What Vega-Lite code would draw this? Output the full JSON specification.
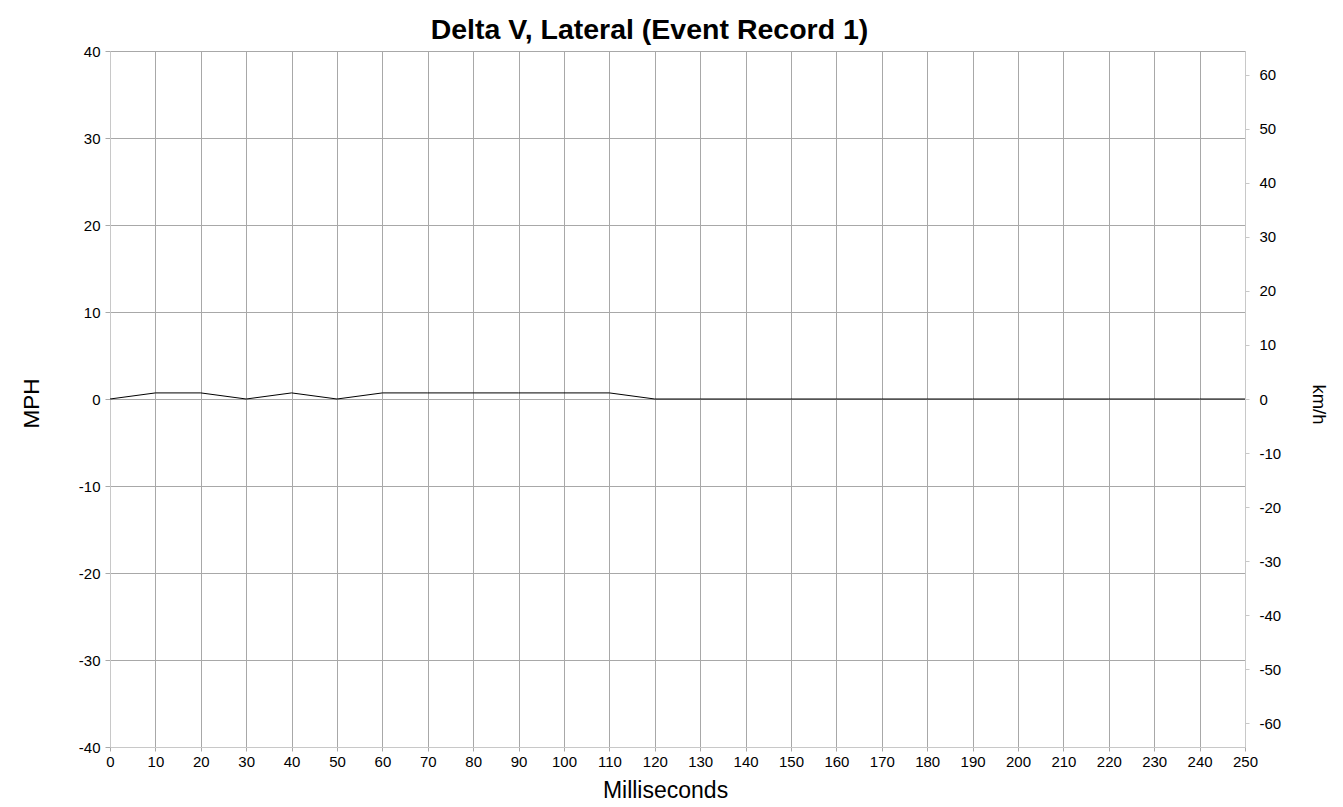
{
  "$schema": "https://vega.github.io/schema/vega-lite/v6.json",
  "width": 1135,
  "height": 696,
  "autosize": {"type": "none"},
  "padding": {"left": 110, "top": 51, "right": 98, "bottom": 60},
  "background": "white",
  "config": {
    "font": "Liberation Sans",
    "view": {"stroke": null},
    "axis": {
      "labelFont": "Liberation Sans",
      "titleFont": "Liberation Sans",
      "labelColor": "#000000",
      "titleColor": "#000000",
      "titleFontWeight": "normal",
      "labelFontSize": 15,
      "domainColor": "#c8c8c8",
      "gridColor": "#a8a8a8",
      "gridOpacity": 1,
      "tickColor": "#a8a8a8",
      "labelExpr": "'' + datum.value"
    }
  },
  "title": {
    "text": "Delta V, Lateral (Event Record 1)",
    "font": "Liberation Sans",
    "fontSize": 28.5,
    "fontWeight": "bold",
    "color": "#000000",
    "anchor": "middle",
    "frame": "group",
    "baseline": "alphabetic",
    "dx": -28,
    "dy": 26,
    "offset": 3
  },
  "data": {
    "values": [
      {"ms": 0, "mph": 0},
      {"ms": 10, "mph": 0.7},
      {"ms": 20, "mph": 0.7},
      {"ms": 30, "mph": 0},
      {"ms": 40, "mph": 0.7},
      {"ms": 50, "mph": 0},
      {"ms": 60, "mph": 0.7},
      {"ms": 70, "mph": 0.7},
      {"ms": 80, "mph": 0.7},
      {"ms": 90, "mph": 0.7},
      {"ms": 100, "mph": 0.7},
      {"ms": 110, "mph": 0.7},
      {"ms": 120, "mph": 0},
      {"ms": 130, "mph": 0},
      {"ms": 140, "mph": 0},
      {"ms": 150, "mph": 0},
      {"ms": 160, "mph": 0},
      {"ms": 170, "mph": 0},
      {"ms": 180, "mph": 0},
      {"ms": 190, "mph": 0},
      {"ms": 200, "mph": 0},
      {"ms": 210, "mph": 0},
      {"ms": 220, "mph": 0},
      {"ms": 230, "mph": 0},
      {"ms": 240, "mph": 0},
      {"ms": 250, "mph": 0}
    ]
  },
  "encoding": {
    "x": {
      "field": "ms",
      "type": "quantitative",
      "scale": {"domain": [0, 250], "nice": false, "zero": false},
      "axis": {
        "title": "Milliseconds",
        "titleFontSize": 23,
        "titleX": 555,
        "titleY": 43,
        "titleBaseline": "middle",
        "values": [0,10,20,30,40,50,60,70,80,90,100,110,120,130,140,150,160,170,180,190,200,210,220,230,240,250],
        "grid": true,
        "tickSize": 4,
        "labelPadding": 3,
        "labelFlush": false,
        "labelOverlap": false
      }
    }
  },
  "layer": [
    {
      "mark": {"type": "line", "color": "#000000", "strokeWidth": 1},
      "encoding": {
        "y": {
          "field": "mph",
          "type": "quantitative",
          "scale": {"domain": [-40, 40], "nice": false},
          "axis": {
            "title": "MPH",
            "orient": "left",
            "titleFontSize": 22.5,
            "titleX": -79,
            "titleY": 352,
            "titleBaseline": "middle",
            "titleAlign": "center",
            "values": [-40,-30,-20,-10,0,10,20,30,40],
            "grid": true,
            "tickSize": 5,
            "labelPadding": 5,
            "labelFlush": false,
            "labelOverlap": false
          }
        }
      }
    },
    {
      "mark": {"type": "rule", "opacity": 0},
      "encoding": {
        "y": {
          "datum": 0,
          "type": "quantitative",
          "scale": {"domain": [-64.37, 64.37], "nice": false},
          "axis": {
            "title": "km/h",
            "orient": "right",
            "titleFontSize": 18.5,
            "titleX": 73,
            "titleY": 353,
            "titleAngle": 90,
            "titleBaseline": "middle",
            "titleAlign": "center",
            "values": [-60,-50,-40,-30,-20,-10,0,10,20,30,40,50,60],
            "grid": false,
            "tickSize": 4,
            "tickColor": "#c8c8c8",
            "labelPadding": 10,
            "labelFlush": false,
            "labelOverlap": false
          }
        }
      }
    }
  ],
  "resolve": {"scale": {"y": "independent"}}
}
